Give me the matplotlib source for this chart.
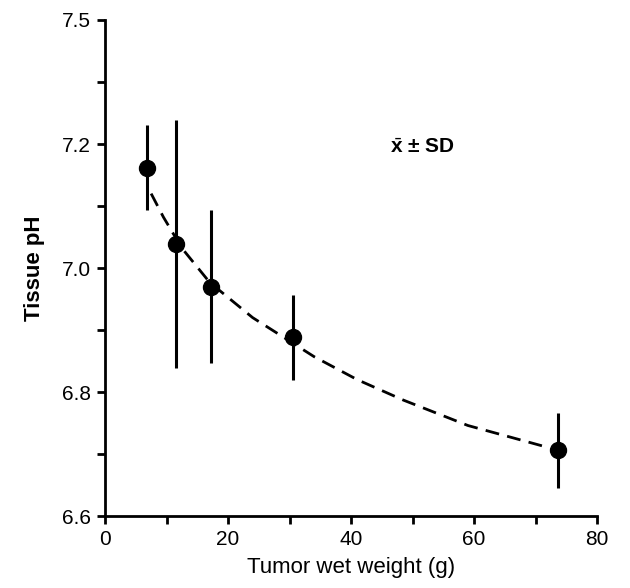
import matplotlib.pyplot as plt

plt.rcParams['font.family'] = ['Liberation Sans', 'DejaVu Sans']
plt.rcParams['mathtext.fontset'] = 'custom'
plt.rcParams['mathtext.rm'] = 'Liberation Sans'
plt.rcParams['mathtext.bf'] = 'Liberation Sans:bold'

# Mean tumor wet weight (g) and tissue pH, with SD
weight = [6.8, 11.5, 17.2, 30.6, 73.7]
ph_mean = [7.162, 7.038, 6.970, 6.888, 6.706]
ph_sd = [0.068, 0.200, 0.123, 0.069, 0.060]

# Dashed fitted curve
curve_x = [7.5, 9.5, 12.5, 17.0, 24.0, 34.0, 41.0, 48.5, 59.0, 66.0, 71.5]
curve_y = [7.120, 7.082, 7.032, 6.977, 6.920, 6.857, 6.820, 6.787, 6.746, 6.727, 6.712]

yticks = [6.6, 6.7, 6.8, 6.9, 7.0, 7.1, 7.2, 7.3, 7.4]
ytick_labels = ['6.6', '', '6.8', '', '7.0', '', '7.2', '', '7.5']
xticks = [0, 10, 20, 30, 40, 50, 60, 70, 80]
xtick_labels = ['0', '', '20', '', '40', '', '60', '', '80']

fig = plt.figure(figsize=(6.3, 5.88), dpi=100)
ax = fig.add_axes([0.1667, 0.1224, 0.781, 0.8436])

ax.plot(curve_x, curve_y, color='black', lw=2, dashes=(5, 3), zorder=2)
ax.errorbar(weight, ph_mean, yerr=ph_sd, fmt='o', color='black',
            ms=11.5, elinewidth=2.2, capsize=0, zorder=3)

ax.text(46.3, 7.195, r'$\bar{\mathbf{x}}$ $\mathbf{\pm}$ SD', fontsize=15,
        fontweight='bold', va='center', ha='left')

ax.set_xlim(0, 80)
ax.set_ylim(6.6, 7.4)
ax.set_xticks(xticks)
ax.set_xticklabels(xtick_labels)
ax.set_yticks(yticks)
ax.set_yticklabels(ytick_labels)

for side in ['top', 'right']:
    ax.spines[side].set_visible(False)
for side in ['left', 'bottom']:
    ax.spines[side].set_linewidth(2)

ax.tick_params(axis='both', direction='out', length=6, width=2,
               labelsize=15, pad=4)

ax.set_xlabel('Tumor wet weight (g)', fontsize=16, labelpad=6)
ax.set_ylabel('Tissue pH', fontsize=16, fontweight='bold', labelpad=12)

plt.savefig('out.png', dpi=100)
